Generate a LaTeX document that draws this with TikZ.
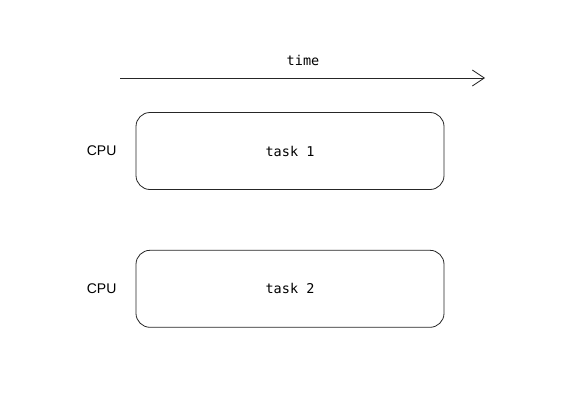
\documentclass[tikz,border=0pt]{standalone}
\usepackage{fontspec}
\setmainfont{Liberation Sans}
\setmonofont{DejaVu Sans Mono}
\usetikzlibrary{positioning,arrows.meta,calc}
\tikzset{
  task/.style={rectangle, rounded corners=14pt, draw=black!85, line width=0.8pt, minimum width=308pt, minimum height=77pt, font=\ttfamily\fontsize{13.5}{16}\selectfont},
  unit/.style={font=\fontsize{14}{16}\selectfont, inner sep=0pt},
  connect/.style={-{Straight Barb[length=12pt, width=16pt]}, line width=0.8pt, draw=black!85}
}

\begin{document}
\begin{tikzpicture}[x=1pt, y=1pt]
		\useasboundingbox (0,0) rectangle (588,408);
		\node[task] (task_{1}) at (290,257) {task 1};
		\node[task] (task_{2}) [below=60pt of task_{1}] {task 2};
		\foreach \t in {1,2} {
		  \node[unit] (cpu_{\t}) [left=19pt of task_{\t}] {CPU};
		}
		\coordinate (t_{0}) at (120,330);
		\coordinate (t_{1}) at (485,330);
		\node[font=\ttfamily\fontsize{13.5}{16}\selectfont] (time) at (303,348) {time};
		\draw[connect] (t_{0}) -- (t_{1});
	\end{tikzpicture}
\end{document}
